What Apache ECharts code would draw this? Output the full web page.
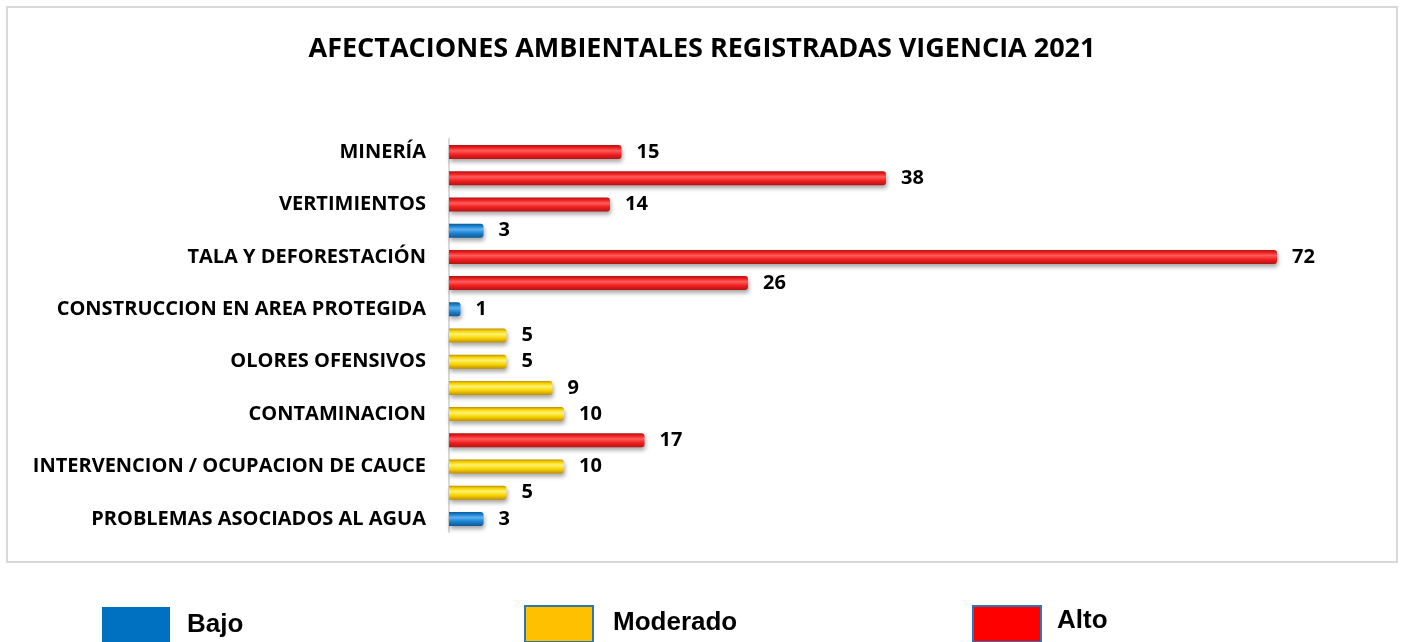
<!DOCTYPE html>
<html>
<head>
<meta charset="utf-8">
<script src="https://cdn.jsdelivr.net/npm/echarts@6/dist/echarts.min.js"></script>
<style>
  html, body { margin: 0; padding: 0; background: #fff; }
  #chart { width: 1404px; height: 642px; }
</style>
</head>
<body>
<div id="chart"></div>
<script>
// ============================
// Datos
// ============================
var categorias = [
    "MINERÍA", "", "VERTIMIENTOS", "", "TALA Y DEFORESTACIÓN", "",
    "CONSTRUCCION EN AREA PROTEGIDA", "", "OLORES OFENSIVOS", "",
    "CONTAMINACION", "", "INTERVENCION / OCUPACION DE CAUCE", "",
    "PROBLEMAS ASOCIADOS AL AGUA"
];
var valores = [15, 38, 14, 3, 72, 26, 1, 5, 5, 9, 10, 17, 10, 5, 3];
var niveles = ["Alto", "Alto", "Alto", "Bajo", "Alto", "Alto", "Bajo", "Moderado",
    "Moderado", "Moderado", "Moderado", "Alto", "Moderado", "Moderado", "Bajo"];
var nombresNivel = ["Bajo", "Moderado", "Alto"];

// ============================
// Estilos
// ============================
var fuente = "Open Sans";
var coloresPlano = { Bajo: "#0070C0", Moderado: "#FFC000", Alto: "#FF0000" };
function gradiente(oscuro, medio, claro) {
    return new echarts.graphic.LinearGradient(0, 0, 0, 1, [
        { offset: 0, color: oscuro },
        { offset: 0.18, color: medio },
        { offset: 0.4, color: claro },
        { offset: 0.7, color: medio },
        { offset: 1, color: oscuro }
    ]);
}
var coloresBarra = {
    Bajo: gradiente("#0d5a96", "#1a80cf", "#5cb0ee"),
    Moderado: gradiente("#c09000", "#f7d200", "#fff36e"),
    Alto: gradiente("#b31414", "#ee1d1d", "#ff5c5c")
};

var series = nombresNivel.map(function (nivel) {
    return {
        name: nivel,
        type: "bar",
        stack: "total",
        barWidth: 14,
        data: valores.map(function (v, i) { return niveles[i] === nivel ? v : "-"; }),
        itemStyle: {
            color: coloresBarra[nivel],
            borderRadius: [0, 3, 3, 0],
            shadowColor: "rgba(0,0,0,0.35)",
            shadowBlur: 4,
            shadowOffsetY: 3,
            shadowOffsetX: 1
        },
        label: {
            show: true,
            position: "right",
            distance: 15,
            color: "#000",
            fontFamily: fuente,
            fontWeight: "bold",
            fontSize: 20
        }
    };
});

// leyenda separada por nivel, para ubicar cada cuadro donde va
function leyenda(nombre, left, top, subir, gap, conBorde) {
    return {
        data: [nombre],
        left: left,
        top: top,
        itemWidth: 68,
        itemHeight: 36,
        icon: "rect",
        selectedMode: false,
        formatter: "{t|{name}}",
        itemStyle: {
            color: coloresPlano[nombre],
            borderColor: conBorde ? "#2E75B6" : coloresPlano[nombre],
            borderWidth: conBorde ? 2 : 0
        },
        textStyle: {
            rich: {
                t: {
                    fontFamily: "Liberation Sans",
                    fontWeight: "bold",
                    fontSize: 26,
                    color: "#000",
                    padding: [0, 0, subir, gap]
                }
            }
        }
    };
}

var chart = echarts.init(document.getElementById("chart"));
chart.setOption({
    animation: false,
    title: {
        text: "AFECTACIONES AMBIENTALES REGISTRADAS VIGENCIA 2021",
        left: "center",
        top: 31,
        textStyle: { fontFamily: fuente, fontWeight: "bold", fontSize: 27, color: "#000" }
    },
    graphic: [{
        type: "rect",
        shape: { x: 7, y: 7, width: 1390, height: 555 },
        style: { fill: "none", stroke: "#d9d9d9", lineWidth: 2 },
        silent: true
    }],
    legend: [
        leyenda("Bajo", 97, 602, 0, 12, false),
        leyenda("Moderado", 519, 600, 2, 15, true),
        leyenda("Alto", 967, 600, 7, 11, true)
    ],
    grid: { left: 449, right: 35, top: 139, bottom: 110 },
    xAxis: {
        type: "value",
        min: 0,
        max: 80,
        show: false
    },
    yAxis: {
        type: "category",
        inverse: true,
        data: categorias,
        axisLine: { show: true, lineStyle: { color: "#d9d9d9", width: 2 } },
        axisTick: { show: false },
        axisLabel: {
            interval: 0,
            margin: 23,
            color: "#000",
            fontFamily: fuente,
            fontWeight: "bold",
            fontSize: 20
        }
    },
    series: series
});
</script>
</body>
</html>
